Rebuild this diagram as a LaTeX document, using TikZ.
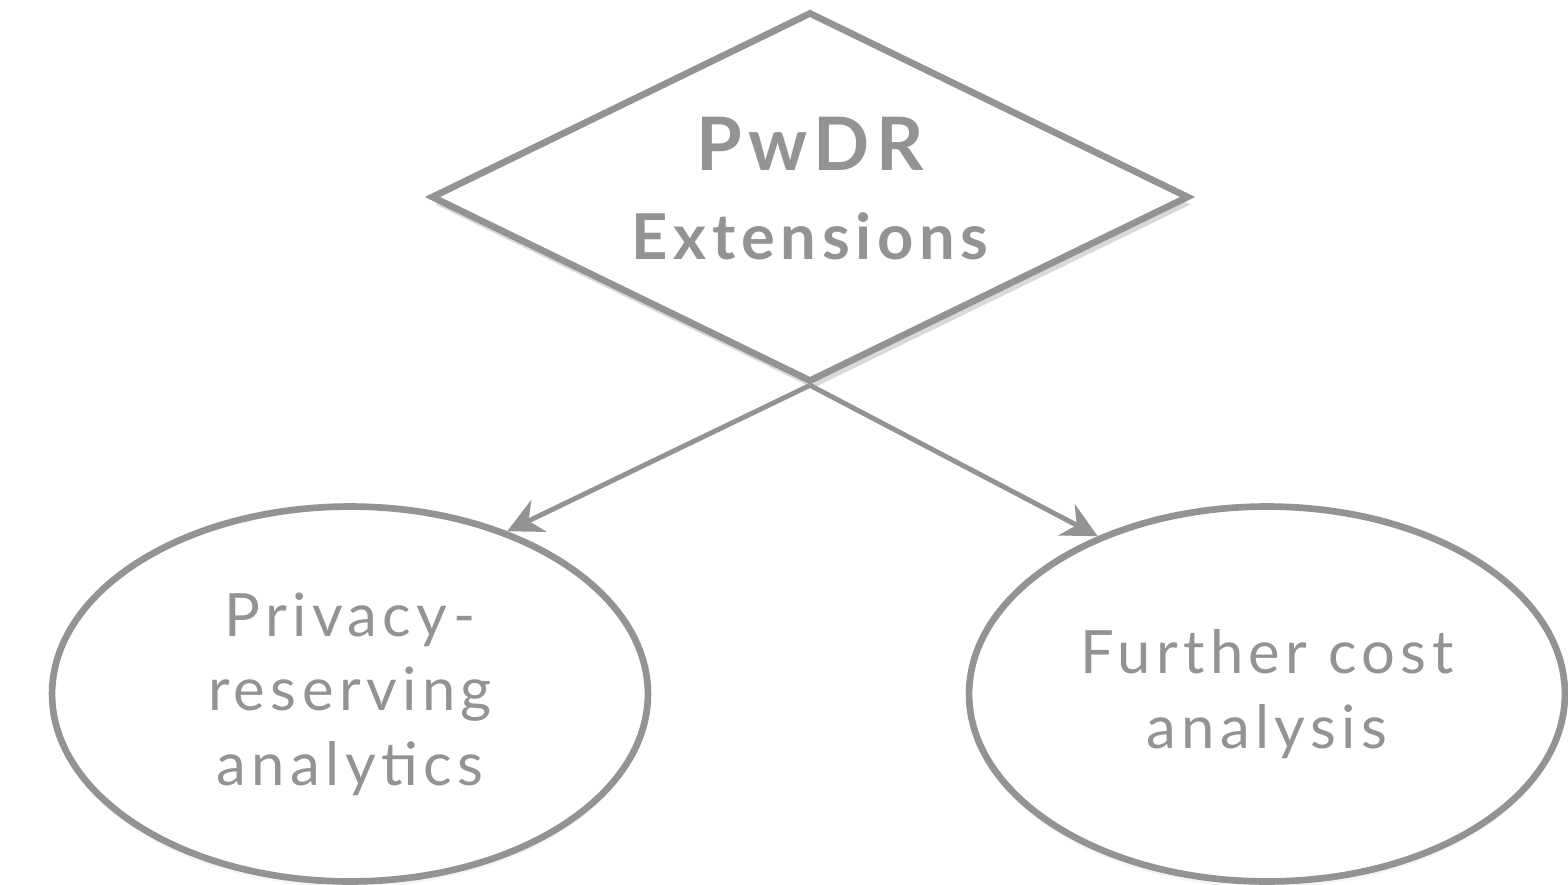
\documentclass[tikz,border=0pt]{standalone}
\usepackage{fontspec}
\setmainfont{Lato}
\newfontfamily\spaced[LetterSpace=9]{Lato}
\usepackage{tikz}
\usetikzlibrary{shapes.geometric,arrows.meta,shadows}
\definecolor{grline}{HTML}{939393}

\begin{document}
\begin{tikzpicture}[x=0.02cm,y=-0.02cm,
    line width=3.8pt, draw=grline, text=grline,
    ell/.style={ellipse, draw, fill=white, minimum width=11.92cm, minimum height=7.5cm,
      align=center, font=\spaced\fontsize{34}{42.5}\selectfont,
      drop shadow={shadow xshift=0pt, shadow yshift=-1.2mm, opacity=0.08}},
    arr/.style={line width=2.8pt, grline, -{Stealth[length=20pt, width=20pt]}}]
      \useasboundingbox (0,0) rectangle (1568,885);
      \node[name=dmd, diamond, draw, fill=white, shape aspect=2.05, inner sep=0pt,
        minimum width=15.16cm, minimum height=7.4cm,
        align=center, font=\bfseries\spaced\fontsize{42}{50}\selectfont,
        drop shadow={shadow xshift=0.6mm, shadow yshift=-1.5mm, opacity=0.3}]
        at (810,197) {PwDR\\[1pt]{\fontsize{36}{44}\selectfont Extensions}\rule[-10pt]{0pt}{10pt}};
      \node[name=priv, ell] at (350,694) {Privacy-\\reserving\\analytics};
      \node[name=cost, ell] at (1267,694) {Further cost\\analysis};
      \draw[arr] (dmd.south) -- (priv.46);
      \draw[arr] (dmd.south) -- (cost.137);
    \end{tikzpicture}
\end{document}
